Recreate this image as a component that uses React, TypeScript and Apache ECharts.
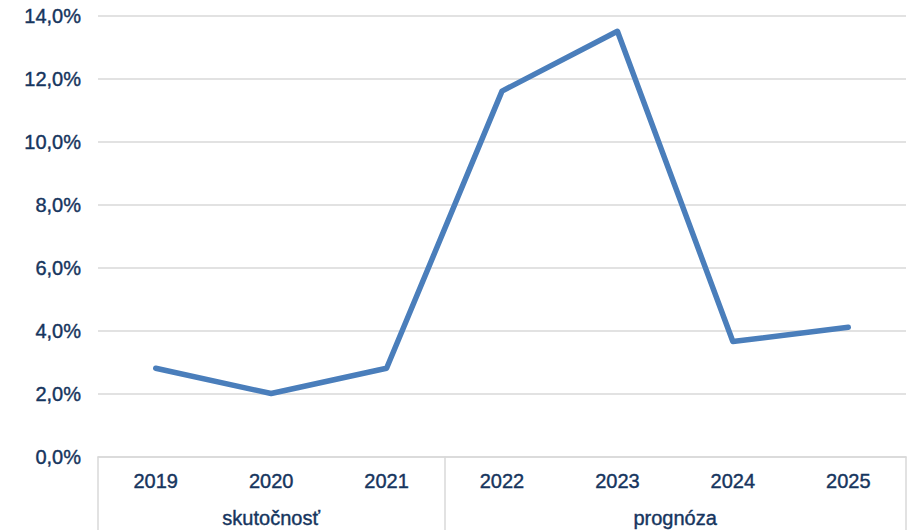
import React, { useEffect, useRef } from "react";
import * as echarts from "echarts";

const years = ["2019", "2020", "2021", "2022", "2023", "2024", "2025"];
const values = [2.8, 2.0, 2.8, 11.6, 13.5, 3.65, 4.1];
const groupNames = ["skutočnosť", "prognóza"];
const groupCenters = [1.5, 5];
const groupBounds = [0, 3, 7];

const TEXT = "#16355E";
const GRID = "#D9D9D9";

const txt = {
  color: TEXT,
  fontSize: 20,
  textBorderColor: TEXT,
  textBorderWidth: 0.4,
};

export default function App() {
  const ref = useRef<HTMLDivElement>(null);
  useEffect(() => {
    if (!ref.current) return;
    const chart = echarts.init(ref.current, undefined, { renderer: "svg" });
    chart.setOption({
      animation: false,
      textStyle: { fontFamily: "Liberation Sans, Arial, sans-serif" },
      grid: { left: 98, right: 14, top: 15.5, bottom: 73.5, containLabel: false },
      xAxis: [
        {
          type: "category",
          data: years,
          boundaryGap: true,
          position: "bottom",
          axisLine: { show: true, lineStyle: { color: GRID, width: 1.5 } },
          axisTick: { show: false },
          axisLabel: { ...txt, margin: 14, interval: 0 },
        },
        {
          type: "value",
          min: 0,
          max: 7,
          position: "bottom",
          axisLine: { show: false },
          splitLine: { show: false },
          axisTick: {
            show: true,
            customValues: groupBounds,
            length: 80,
            lineStyle: { color: GRID, width: 1.5 },
          },
          axisLabel: {
            ...txt,
            show: true,
            customValues: groupCenters,
            margin: 51,
            formatter: (v: number) => groupNames[groupCenters.indexOf(v)] ?? "",
          },
        },
      ],
      yAxis: {
        type: "value",
        min: 0,
        max: 14,
        interval: 2,
        axisLine: { show: false },
        axisTick: { show: false },
        axisLabel: {
          ...txt,
          margin: 17,
          formatter: (v: number) => v.toFixed(1).replace(".", ",") + "%",
        },
        splitLine: { lineStyle: { color: GRID, width: 1.5 } },
      },
      series: [
        {
          type: "line",
          data: values,
          xAxisIndex: 0,
          symbol: "none",
          lineStyle: { color: "#4A7EBB", width: 5.5, join: "round", cap: "round" },
        },
      ],
    });
    return () => chart.dispose();
  }, []);
  return (
    <div
      ref={ref}
      style={{ position: "fixed", left: 0, top: 0, width: 920, height: 530, background: "#fff" }}
    />
  );
}
